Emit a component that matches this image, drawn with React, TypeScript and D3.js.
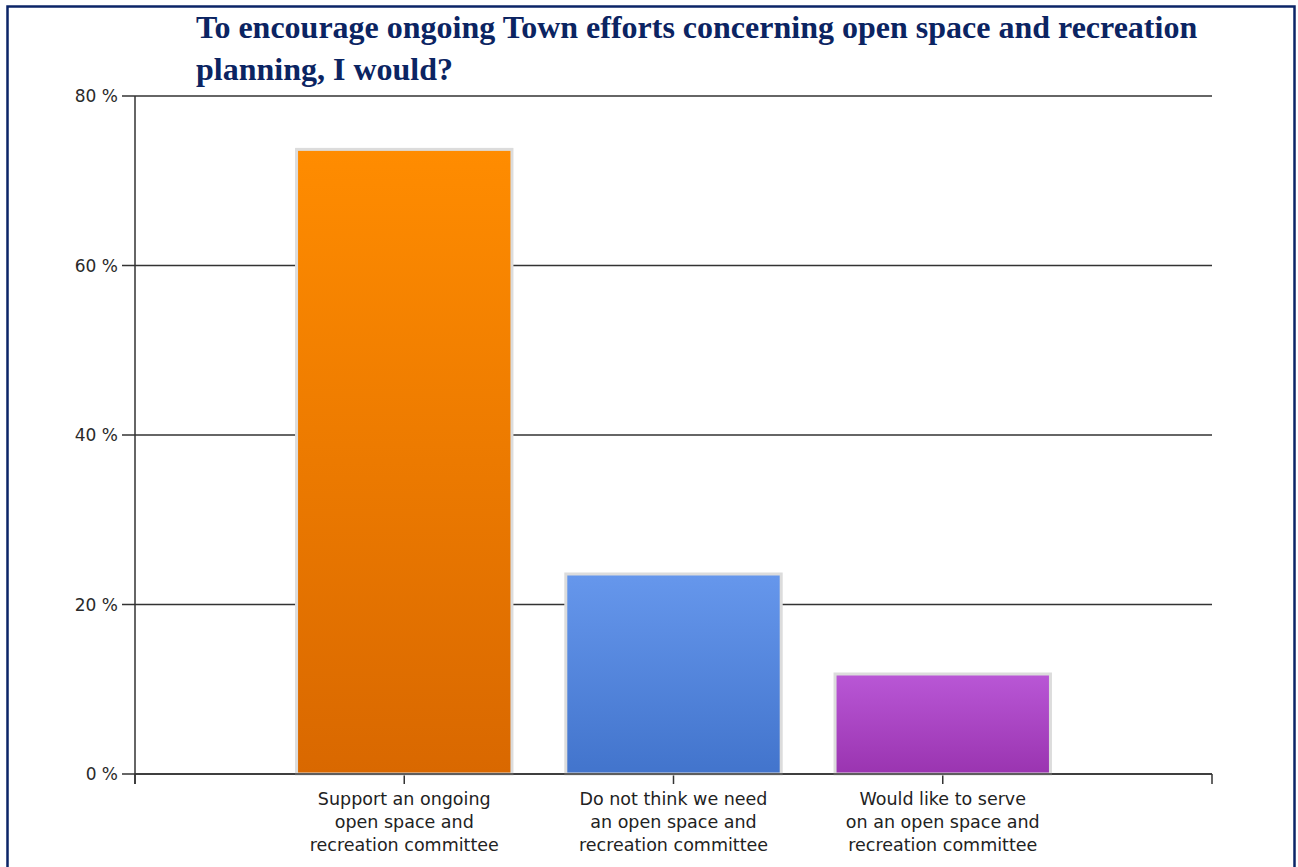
import React, { useEffect, useRef } from "react";
import * as d3 from "d3";

const categories = [
  ["Support an ongoing", "open space and", "recreation committee"],
  ["Do not think we need", "an open space and", "recreation committee"],
  ["Would like to serve", "on an open space and", "recreation committee"],
];
const values = [73.7, 23.6, 11.8];
const yTicks = [0, 20, 40, 60, 80];
const titleLines = [
  "To encourage ongoing Town efforts concerning open space and recreation",
  "planning, I would?",
];
const gradients = [
  ["#ff8c00", "#d96800"],
  ["#6697ec", "#4274cc"],
  ["#b957d6", "#9a34b0"],
];

export default function App() {
  const ref = useRef<SVGSVGElement>(null);
  useEffect(() => {
    const svg = d3.select(ref.current);
    svg.selectAll("*").remove();
    const left = 135, right = 1212, top = 96, bottom = 774;
    const sans = "DejaVu Sans, Verdana, sans-serif";

    // border
    svg.append("rect").attr("x", 7.5).attr("y", 6.5).attr("width", 1287).attr("height", 880)
      .attr("fill", "white").attr("stroke", "#0b2567").attr("stroke-width", 2.5);

    // title
    const t = svg.append("text").attr("font-family", "Liberation Serif, Times New Roman, serif")
      .attr("font-weight", "bold").attr("font-size", 32).attr("fill", "#0b2462");
    titleLines.forEach((l, i) => t.append("tspan").attr("x", 196).attr("y", 38 + i * 42).text(l));

    const y = d3.scaleLinear().domain([0, 80]).range([bottom, top]);
    const idx = d3.range(categories.length + 2);
    const xp = d3.scalePoint<number>().domain(idx).range([left, right]);
    const step = xp.step();
    const bw = step * 0.8;

    const defs = svg.append("defs");
    gradients.forEach((g, i) => {
      const lg = defs.append("linearGradient").attr("id", "g" + i).attr("x1", 0).attr("y1", 0).attr("x2", 0).attr("y2", 1);
      lg.append("stop").attr("offset", "0%").attr("stop-color", g[0]);
      lg.append("stop").attr("offset", "100%").attr("stop-color", g[1]);
    });

    // gridlines and ticks
    yTicks.forEach((v) => {
      svg.append("line").attr("x1", 122).attr("x2", right).attr("y1", y(v)).attr("y2", y(v))
        .attr("stroke", "#333").attr("stroke-width", 1.5);
      svg.append("text").attr("x", 118).attr("y", y(v) + 6).attr("text-anchor", "end")
        .attr("font-family", sans).attr("font-size", 17)
        .attr("fill", "#2a2a2a").text(`${v} %`);
    });

    // y axis
    svg.append("line").attr("x1", left).attr("x2", left).attr("y1", top).attr("y2", bottom + 10)
      .attr("stroke", "#333").attr("stroke-width", 1.5);
    // x ticks
    idx.forEach((i) => {
      svg.append("line").attr("x1", xp(i)!).attr("x2", xp(i)!).attr("y1", bottom).attr("y2", bottom + 10)
        .attr("stroke", "#333").attr("stroke-width", 1.5);
    });

    // bars
    values.forEach((v, i) => {
      const cx = xp(i + 1)!;
      svg.append("rect").attr("x", cx - bw / 2).attr("y", y(v)).attr("width", bw).attr("height", bottom - y(v))
        .attr("fill", `url(#g${i})`).attr("stroke", "#dcdcdc").attr("stroke-width", 3);
    });
    // x axis line over bars
    svg.append("line").attr("x1", left).attr("x2", right).attr("y1", bottom).attr("y2", bottom)
      .attr("stroke", "#333").attr("stroke-width", 1.5);

    // category labels
    categories.forEach((lines, i) => {
      const cx = xp(i + 1)!;
      const tx = svg.append("text").attr("text-anchor", "middle")
        .attr("font-family", sans).attr("font-size", 17.5).attr("fill", "#222");
      lines.forEach((l, j) => tx.append("tspan").attr("x", cx).attr("y", 805 + j * 23).text(l));
    });
  }, []);
  return (
    <svg ref={ref} width={1298} height={867} style={{ position: "absolute", left: 0, top: 0, background: "white" }} />
  );
}
